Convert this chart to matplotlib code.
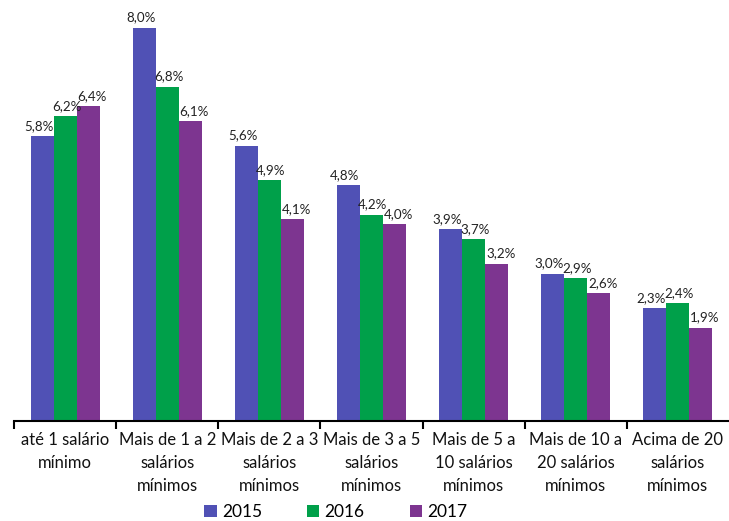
import matplotlib.pyplot as plt
import numpy as np

categories = ["até 1 salário\nmínimo", "Mais de 1 a 2\nsalários\nmínimos",
              "Mais de 2 a 3\nsalários\nmínimos", "Mais de 3 a 5\nsalários\nmínimos",
              "Mais de 5 a\n10 salários\nmínimos", "Mais de 10 a\n20 salários\nmínimos",
              "Acima de 20\nsalários\nmínimos"]
years = ["2015", "2016", "2017"]
v2015 = [5.8, 8.0, 5.6, 4.8, 3.9, 3.0, 2.3]
v2016 = [6.2, 6.8, 4.9, 4.2, 3.7, 2.9, 2.4]
v2017 = [6.4, 6.1, 4.1, 4.0, 3.2, 2.6, 1.9]
colors = ["#5051B5", "#00A04A", "#7D3590"]

plt.rcParams['font.family'] = ['Lato', 'DejaVu Sans']

fig = plt.figure(figsize=(7.29, 5.21), dpi=100)
ax = fig.add_axes([0.0192, 0.192, 0.9808, 0.80])

x = np.arange(len(categories))
w = 0.225
nudge = [-2.5, 1, 3]  # label shift in points, keeps neighbours apart
for i, vals in enumerate([v2015, v2016, v2017]):
    bars = ax.bar(x + (i - 1) * w, vals, w, color=colors[i], label=years[i])
    for b, v in zip(bars, vals):
        ax.annotate(f"{v:.1f}%".replace(".", ","),
                    (b.get_x() + b.get_width() / 2, v), xytext=(nudge[i], 3),
                    textcoords="offset points", ha="center", va="bottom",
                    fontsize=9.6, color="#222222")

ax.set_xlim(-0.5, len(categories) - 0.5)
ax.set_ylim(0, 8.48)
ax.set_yticks([])
for s in ["top", "right", "left"]:
    ax.spines[s].set_visible(False)
ax.spines["bottom"].set_linewidth(1.5)

ax.set_xticks(x)
ax.set_xticklabels(categories, fontsize=12, linespacing=1.55, color="#111111")
ax.tick_params(axis="x", which="major", length=0, pad=8)
ax.set_xticks(np.arange(len(categories)) - 0.5, minor=True)
ax.tick_params(axis="x", which="minor", length=6, width=1.5)

ax.legend(loc="lower center", bbox_to_anchor=(0.45, -0.275), ncol=3, frameon=False,
          fontsize=12.5, handlelength=0.7, handleheight=0.7, columnspacing=2.6,
          handletextpad=0.3)

fig.savefig("out.png", dpi=100)
